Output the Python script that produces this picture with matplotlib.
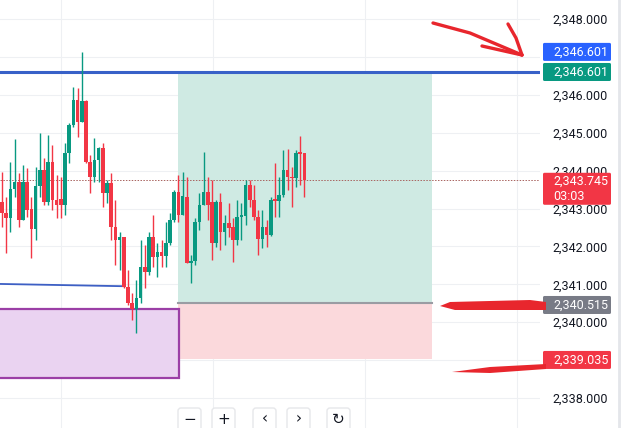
import numpy as np
import matplotlib
matplotlib.use("Agg")
import matplotlib.pyplot as plt
from matplotlib.patches import Rectangle, FancyBboxPatch, Polygon
from matplotlib.ticker import FuncFormatter

plt.rcParams['font.family'] = ['Roboto', 'DejaVu Sans']

# candle data
opens = [2343.17, 2342.88, 2342.75, 2343.51, 2343.70, 2342.70, 2343.70, 2342.99, 2342.46, 2343.59,
         2344.02, 2343.17, 2344.23, 2343.22, 2343.25, 2343.09, 2344.46, 2345.20, 2345.86, 2345.28,
         2345.84, 2344.23, 2343.83, 2344.28, 2344.60, 2343.41, 2343.67, 2342.51, 2342.17, 2342.25,
         2340.93, 2340.51, 2340.35, 2340.64, 2341.46, 2341.32, 2342.25, 2341.72, 2341.85, 2341.75,
         2342.09, 2342.70, 2343.44, 2342.83, 2343.30, 2341.56, 2341.62, 2342.64, 2343.09, 2343.44,
         2343.17, 2342.09, 2343.17, 2342.38, 2342.62, 2342.51, 2342.17, 2342.78, 2342.80, 2343.62,
         2343.22, 2342.78, 2342.20, 2342.51, 2342.30, 2343.22, 2343.20, 2343.35, 2344.02, 2343.83,
         2343.80, 2344.46, 2344.46]
closes = [2342.88, 2342.75, 2343.51, 2343.70, 2342.70, 2343.70, 2342.96, 2342.46, 2343.59, 2344.02,
          2343.17, 2344.23, 2343.22, 2343.10, 2343.09, 2344.46, 2345.20, 2345.86, 2345.28, 2345.84,
          2344.23, 2343.83, 2344.28, 2344.60, 2343.41, 2343.67, 2342.51, 2342.17, 2342.25, 2340.93,
          2340.51, 2340.35, 2340.64, 2341.46, 2341.32, 2342.25, 2341.72, 2341.85, 2341.75, 2342.09,
          2342.70, 2343.44, 2342.83, 2343.33, 2341.56, 2341.62, 2342.64, 2343.09, 2343.44, 2343.09,
          2342.09, 2343.17, 2342.38, 2342.62, 2342.49, 2342.17, 2342.78, 2342.80, 2343.62, 2343.22,
          2342.78, 2342.20, 2342.51, 2342.30, 2343.22, 2343.20, 2343.35, 2344.02, 2343.83, 2343.80,
          2344.46, 2344.44, 2343.745]
highs = [2343.96, 2343.30, 2344.23, 2344.83, 2343.94, 2344.15, 2344.07, 2343.30, 2344.10, 2344.99,
         2344.33, 2344.94, 2344.68, 2343.88, 2343.83, 2344.73, 2345.26, 2346.21, 2346.18, 2347.13,
         2345.86, 2344.41, 2344.86, 2344.62, 2344.73, 2343.75, 2343.94, 2343.22, 2342.38, 2342.25,
         2341.38, 2340.77, 2341.11, 2342.17, 2342.04, 2342.38, 2342.83, 2342.09, 2342.17, 2342.64,
         2342.88, 2343.49, 2343.88, 2343.96, 2343.83, 2341.77, 2342.75, 2343.41, 2344.49, 2343.83,
         2343.75, 2343.22, 2343.41, 2342.83, 2343.14, 2342.75, 2343.22, 2343.14, 2343.75, 2343.75,
         2343.62, 2342.96, 2342.96, 2342.70, 2343.30, 2344.20, 2343.83, 2344.54, 2344.57, 2344.10,
         2344.54, 2344.91, 2344.46]
lows = [2342.51, 2341.83, 2342.38, 2343.30, 2342.51, 2342.70, 2342.78, 2341.69, 2342.17, 2343.30,
        2343.09, 2343.09, 2342.96, 2342.75, 2342.75, 2342.83, 2344.20, 2345.15, 2344.89, 2345.28,
        2344.20, 2343.41, 2343.70, 2343.70, 2343.04, 2343.14, 2342.17, 2341.51, 2341.38, 2340.90,
        2340.45, 2340.06, 2339.71, 2340.51, 2340.90, 2341.25, 2341.46, 2341.19, 2341.46, 2341.46,
        2342.04, 2342.64, 2342.64, 2342.83, 2341.56, 2341.03, 2341.51, 2342.43, 2343.09, 2342.70,
        2341.64, 2341.98, 2341.91, 2342.04, 2342.25, 2341.59, 2342.04, 2342.17, 2342.56, 2343.04,
        2342.70, 2341.77, 2341.96, 2341.98, 2342.28, 2342.78, 2342.78, 2343.30, 2343.49, 2343.04,
        2343.57, 2343.62, 2343.30]

price_ticks = [2338, 2339, 2340, 2341, 2342, 2343, 2344, 2345, 2346, 2347, 2348]
shown_ticks = [2338, 2340, 2341, 2342, 2343, 2344, 2345, 2346, 2348]

# position / levels
target = 2346.601
entry = 2340.515
stop = 2339.035
last = 2343.745
countdown = "03:03"
box_start, box_end = 41.9, 102.4
zone_top, zone_bot = 2340.35, 2338.53
trend_y0, trend_y1 = 2341.01, 2340.95

UP = '#089981'
DOWN = '#f23645'

fig = plt.figure(figsize=(6.25, 4.28), dpi=100)
ax = fig.add_axes([0, 0, 540 / 625, 1])
ax.set_xlim(-0.48, 128.1)
ax.set_ylim(2337.21, 2348.50)

# grid
for p in price_ticks:
    ax.axhline(p, color='#eef0f3', lw=0.8, zorder=0)
for xv in [14.05, 50.2, 86.4, 122.6]:
    ax.axvline(xv, color='#eef0f3', lw=0.8, zorder=0)

# profit / loss zones
ax.add_patch(Rectangle((box_start, entry), box_end - box_start, target - entry,
                       facecolor='#cfeae3', edgecolor='none', zorder=1))
ax.add_patch(Rectangle((box_start, stop), box_end - box_start, entry - stop,
                       facecolor='#fbd9dc', edgecolor='none', zorder=1))
ax.plot([box_start, box_end], [entry, entry], color='#9a9ca3', lw=1.5, zorder=2)

# purple demand zone
ax.add_patch(Rectangle((-1, zone_bot), box_start + 1.2, zone_top - zone_bot,
                       facecolor='#ead3f1', edgecolor='#9b3fa6', lw=1.6, zorder=1))

# trend line
ax.plot([-0.48, 29.0], [trend_y0, trend_y1], color='#3d5fc4', lw=1.3, zorder=3)

# target line
ax.axhline(target, color='#3861c8', lw=2.2, zorder=3)

# last price dotted line
ax.axhline(last, color='#a8635f', lw=0.7, ls=(0, (1.5, 1.5)), zorder=3)

# candles
x = np.arange(len(opens))
o = np.array(opens)
c = np.array(closes)
cols = [UP if cc >= oo else DOWN for oo, cc in zip(o, c)]
ax.vlines(x, lows, highs, colors=cols, lw=1.0, zorder=4)
body = np.maximum(np.abs(c - o), 0.04)
ax.bar(x, body, bottom=np.minimum(o, c), width=0.82, color=cols, zorder=5)

# price scale
ax.yaxis.tick_right()
ax.set_yticks(shown_ticks)
ax.yaxis.set_major_formatter(FuncFormatter(lambda v, p: f"{v:,.3f}"))
ax.tick_params(axis='y', length=0, pad=9.0, labelsize=9, labelcolor='#131722')
ax.set_xticks([])
for s in ax.spines.values():
    s.set_visible(False)

ax2 = fig.add_axes([540 / 625, 0, 85 / 625, 1])
ax2.set_xlim(0, 85)
ax2.set_ylim(ax.get_ylim())
ax2.axis('off')
ax2.patch.set_alpha(0)
ax2.axvline(78.5, color='#e4e6ea', lw=2)

h1 = 18 / 37.9


def price_box(yc, h, color, lines):
    ax2.add_patch(FancyBboxPatch((3, yc - h / 2), 68, h,
                                 boxstyle="round,pad=0,rounding_size=1.5",
                                 mutation_aspect=1 / 37.9,
                                 facecolor=color, edgecolor='none', zorder=5))
    n = len(lines)
    for k, t in enumerate(lines):
        yy = yc + (n - 1) * 0.2 - k * 0.4
        ax2.text(13, yy, t, color='white', fontsize=9, va='center', ha='left', zorder=6)


price_box(target + 0.53, h1, '#2962ff', [f"{target:,.3f}"])
price_box(target, h1, UP, [f"{target:,.3f}"])
price_box(2343.52, 32 / 37.9, DOWN, [f"{last:,.3f}", countdown])
price_box(entry - 0.06, h1, '#787b86', [f"{entry:,.3f}"])
price_box(stop - 0.03, h1, DOWN, [f"{stop:,.3f}"])

# overlay: hand-drawn marks and toolbar (pixel coords)
ov = fig.add_axes([0, 0, 1, 1])
ov.set_xlim(0, 625)
ov.set_ylim(428, 0)
ov.axis('off')
ov.patch.set_alpha(0)
red = '#e8262d'
ov.plot([433, 470, 522], [23, 33, 55], color=red, lw=2.4, solid_capstyle='round')
ov.plot([508, 516, 522], [24, 38, 55], color=red, lw=2.4, solid_capstyle='round')
ov.plot([482, 522], [46, 55], color=red, lw=2.4, solid_capstyle='round')
ov.add_patch(Polygon([[440, 306], [450, 302], [530, 300], [546, 302], [546, 310], [455, 310]],
                     closed=True, facecolor=red, edgecolor='none'))
ov.add_patch(Polygon([[452, 372], [490, 367], [546, 364], [546, 369], [490, 373]],
                     closed=True, facecolor=red, edgecolor='none'))

buttons = ["\u2212", "+", "\u2039", "\u203a", "\u21bb"]
bx = [178, 212, 253, 287, 327]
for b, x0 in zip(buttons, bx):
    ov.add_patch(FancyBboxPatch((x0, 408), 23, 30, boxstyle="round,pad=0,rounding_size=3",
                                facecolor='white', edgecolor='#e6e7ea', lw=1))
    ov.text(x0 + 11.5, 419, b, ha='center', va='center', fontsize=11, color='#131722',
            family=['DejaVu Sans'])

fig.savefig('out.png', dpi=100, facecolor='white')
